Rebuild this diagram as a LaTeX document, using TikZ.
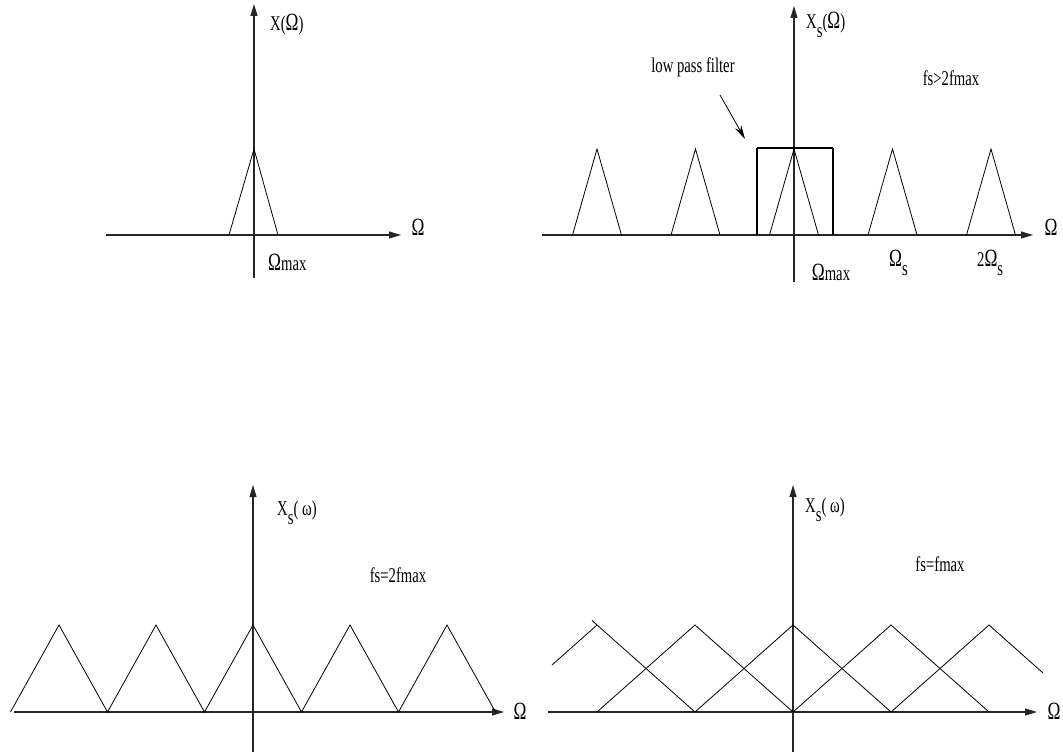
\documentclass[tikz,border=0pt]{standalone}
\usepackage{fontspec}
\setmainfont{Liberation Serif}[FakeStretch=0.7]
\usetikzlibrary{arrows.meta}
\newcommand{\subs}[1]{\raisebox{-0.45em}{#1}}
\newcommand{\Om}{\scalebox{1.18}{Ω}}
\begin{document}
\begin{tikzpicture}[x=1pt,y=-1pt,
  axis/.style={line width=1.1pt, draw=black!85, -{Triangle[length=12pt,width=7pt]}},
  curve/.style={line width=0.8pt, line join=miter},
  filterbox/.style={line width=1.5pt},
  filtertop/.style={line width=2.4pt},
  pointer/.style={line width=0.8pt, -{Stealth[length=14pt,width=7pt]}},
  lbl/.style={inner sep=0pt, font=\fontsize{21}{24}\selectfont}]
\useasboundingbox (0,0) rectangle (1063,752);

% ---------- top left ----------
\draw[axis] (106,235) -- (401,235);
\draw[axis] (254,278) -- (254,4);
\draw[curve] (229,235) -- (254,149) -- (278,235);
\node[lbl, anchor=west] (tly) at (270,25) {X(\Om)};
\node[lbl] (tlx) at (418,227) {\Om};
\node[lbl, anchor=west] (tlmax) at (268,262) {\Om max};

% ---------- top right ----------
\draw[axis] (542,235) -- (1033,235);
\draw[axis] (794,282) -- (794,6);
\foreach \a in {597,695.5,794,892.5,991}
  \draw[curve] (\a-24.5,235) -- (\a,149) -- (\a+24.5,235);
\draw[filterbox] (757,235) -- (757,148);
\draw[filterbox] (833,148) -- (833,235);
\draw[filtertop] (757,148) -- (833,148);
\node[lbl] (lpf) at (693,67) {low pass filter};
\coordinate (lpfstart) at (720,95);
\coordinate (lpfend) at (745,139);
\draw[pointer] (lpfstart) -- (lpfend);
\node[lbl, anchor=west] (try) at (806,25) {X\subs{s}(\Om)};
\node[lbl] (trfs) at (951,78) {fs>2fmax};
\node[lbl] (trx) at (1051,227) {\Om};
\node[lbl] (trmax) at (831,272) {\Om max};
\node[lbl, anchor=west] (trs1) at (889,263) {\Om\subs{s}};
\node[lbl, anchor=west] (trs2) at (977,263) {2\Om\subs{s}};

% ---------- bottom left ----------
\draw[axis] (14,712) -- (504,712);
\draw[axis] (253,752) -- (253,485);
\draw[curve] (10.5,712) -- (59,625) -- (107.5,712) -- (156,625) -- (204.5,712)
  -- (253,625) -- (301.5,712) -- (350,625) -- (398.5,712) -- (447,625) -- (495.5,712);
\node[lbl, anchor=west] (bly) at (277,513) {X\subs{s}( ω)};
\node[lbl] (blfs) at (398,575) {fs=2fmax};
\node[lbl] (blx) at (520,711) {\Om};

% ---------- bottom right ----------
\draw[axis] (548,712) -- (1037,712);
\draw[axis] (793,752) -- (793,485);
\draw[curve] (552,665) -- (597,625);
\draw[curve] (592,620.5) -- (695,712);
\draw[curve] (597,712) -- (695,625) -- (793,712);
\draw[curve] (695,712) -- (793,625) -- (891,712);
\draw[curve] (793,712) -- (891,625) -- (989,712);
\draw[curve] (891,712) -- (989,625) -- (1043,673);
\node[lbl, anchor=west] (bry) at (805,510) {X\subs{s}( ω)};
\node[lbl] (brfs) at (940,564) {fs=fmax};
\node[lbl] (brx) at (1054,711) {\Om};
\end{tikzpicture}
\end{document}
